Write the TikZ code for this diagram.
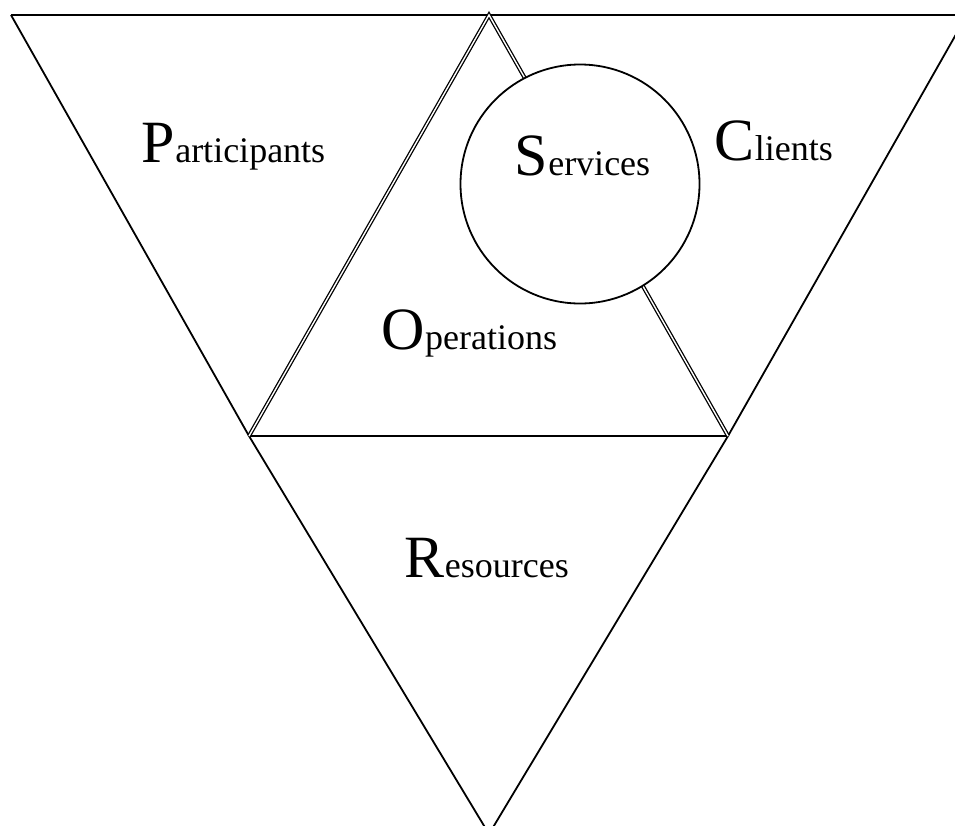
\documentclass[tikz,border=0pt]{standalone}
\usepackage{fontspec}
\setmainfont{Liberation Serif}
\usepackage{tikz}

\newcommand{\capword}[2]{{\fontsize{60}{60}\selectfont #1}{\fontsize{36}{36}\selectfont #2}}

\begin{document}
\begin{tikzpicture}[x=1pt,y=-1pt,line width=1.8pt,line join=miter,
    side/.style={double,line width=1.3pt,double distance=1.4pt},
    ring/.style={circle,draw,fill=white,inner sep=0pt,minimum size=239pt},
    word/.style={anchor=base west,inner sep=0pt}]
    \useasboundingbox (0,0) rectangle (955,825);
    \clip (0,0) rectangle (955,825);
    % corners
    \coordinate (tl) at (11,15);
    \coordinate (tm) at (489,15);
    \coordinate (tr) at (967,15);
    \coordinate (bl) at (249,436);
    \coordinate (br) at (728,436);
    \coordinate (bot) at (489,834);
    % triangles
    \draw (tl) -- (tr);
    \draw (tl) -- (bl);
    \draw (tr) -- (br);
    \draw (bl) -- (br);
    \draw (bl) -- (bot) -- (br);
    \draw[side] (bl) -- (tm) -- (br);
    \node[ring] (svc) at (580,184) {};
    % labels
    \node[word] (part) at (141,162) {\capword{P}{articipants}};
    \node[word] (serv) at (514,175) {\capword{S}{ervices}};
    \node[word] (cli) at (714,160) {\capword{C}{lients}};
    \node[word] (ops) at (381,349) {\capword{O}{perations}};
    \node[word] (res) at (404,577) {\capword{R}{esources}};
\end{tikzpicture}
\end{document}
